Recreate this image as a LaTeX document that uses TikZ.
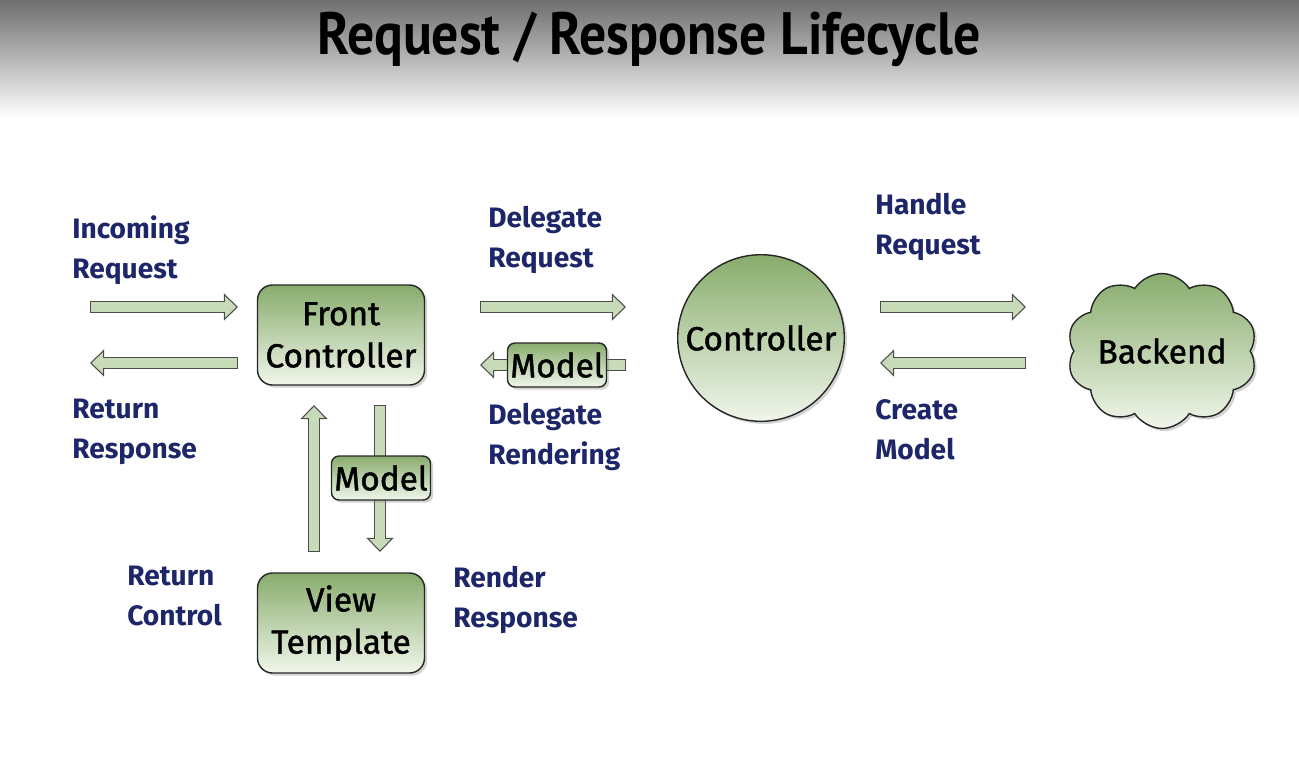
\documentclass[tikz,border=0pt]{standalone}
\usepackage{fontspec}
\setmainfont{Fira Sans}
\newfontfamily\titlefont[FakeStretch=0.9]{PT Sans}
\newfontfamily\boxfont[FakeBold=1.3]{Fira Sans}
\usetikzlibrary{arrows.meta,positioning,shapes.symbols,shadows}
\definecolor{boxgreen}{RGB}{136,172,108}
\definecolor{palegreen}{RGB}{240,246,235}
\definecolor{arrowgreen}{RGB}{199,219,184}
\definecolor{labelblue}{RGB}{28,38,104}

\begin{document}
\begin{tikzpicture}[x=0.02cm,y=-0.02cm,
  greenbox/.style={draw=black!85,thick,rounded corners=0.3cm,top color=boxgreen,bottom color=palegreen,
    drop shadow={opacity=0.35,shadow xshift=1.5pt,shadow yshift=-1.5pt},
    minimum width=3.34cm,minimum height=2cm,align=center,font=\boxfont\fontsize{19}{24}\selectfont},
  modelbox/.style={greenbox,rounded corners=0.15cm,minimum width=1.98cm,minimum height=0.88cm,inner sep=1pt},
  lbl/.style={anchor=north west,inner sep=0pt,align=left,text=labelblue,font=\fontsize{16}{22.7}\selectfont\bfseries},
  blockarr/.style={line width=7pt,draw=black!70,-{Triangle[length=8pt,width=15pt]},
    postaction={draw=arrowgreen,line width=5.6pt,shorten <=0.7pt,shorten >=1pt,-{Triangle[length=6.3pt,width=11.8pt]}}}]
\useasboundingbox (0,0) rectangle (1299,762);
% title band
\shade[top color=black!57,bottom color=white] (0,0) rectangle (1299,118);
\node[font=\titlefont\bfseries\fontsize{34}{40}\selectfont,anchor=base] (title) at (649,54) {Request / Response Lifecycle};
% main nodes
\node[greenbox] (front) at (341,335) {Front\\Controller};
\node[greenbox] (view) at (341,623) {View\\Template};
\node[greenbox,circle,minimum size=3.2cm] (ctrl) at (761,338) {Controller};
\node[greenbox,sharp corners,cloud,cloud puffs=10,cloud puff arc=115,cloud ignores aspect,inner sep=0pt,minimum width=3.8cm,minimum height=3.1cm] (backend) at (1162,351) {Backend};
% arrow ends
\coordinate (inA) at (90,307);   \coordinate (inB) at (238,307);
\coordinate (retA) at (238,363); \coordinate (retB) at (90,363);
\coordinate (dreqA) at (480,307); \coordinate (dreqB) at (626,307);
\coordinate (drenA) at (626,365); \coordinate (drenB) at (480,365);
\coordinate (hreqA) at (880,307); \coordinate (hreqB) at (1026,307);
\coordinate (cmodA) at (1026,363); \coordinate (cmodB) at (880,363);
\coordinate (upA) at (314,552);  \coordinate (upB) at (314,405);
\coordinate (dnA) at (380,405);  \coordinate (dnB) at (380,552);
\draw[blockarr] (inA) -- (inB);   \draw[blockarr] (retA) -- (retB);
\draw[blockarr] (dreqA) -- (dreqB); \draw[blockarr] (drenA) -- (drenB);
\draw[blockarr] (hreqA) -- (hreqB); \draw[blockarr] (cmodA) -- (cmodB);
\draw[blockarr] (upA) -- (upB);   \draw[blockarr] (dnA) -- (dnB);
% models carried on the arrows
\node[modelbox] (model1) at (557,365) {Model};
\node[modelbox] (model2) at (381,478) {Model};
% labels
\node[lbl] (lin) at (72,215) {Incoming\\Request};
\node[lbl] (lret) at (72,399) {Return\\Response};
\node[lbl] (ldreq) at (488,206) {Delegate\\Request};
\node[lbl] (ldren) at (488,403) {Delegate\\Rendering};
\node[lbl] (lhreq) at (875,193) {Handle\\Request};
\node[lbl] (lcmod) at (875,399) {Create\\Model};
\node[lbl] (lrctl) at (127,566) {Return\\Control};
\node[lbl] (lrres) at (453,566) {Render\\Response};
\end{tikzpicture}
\end{document}
